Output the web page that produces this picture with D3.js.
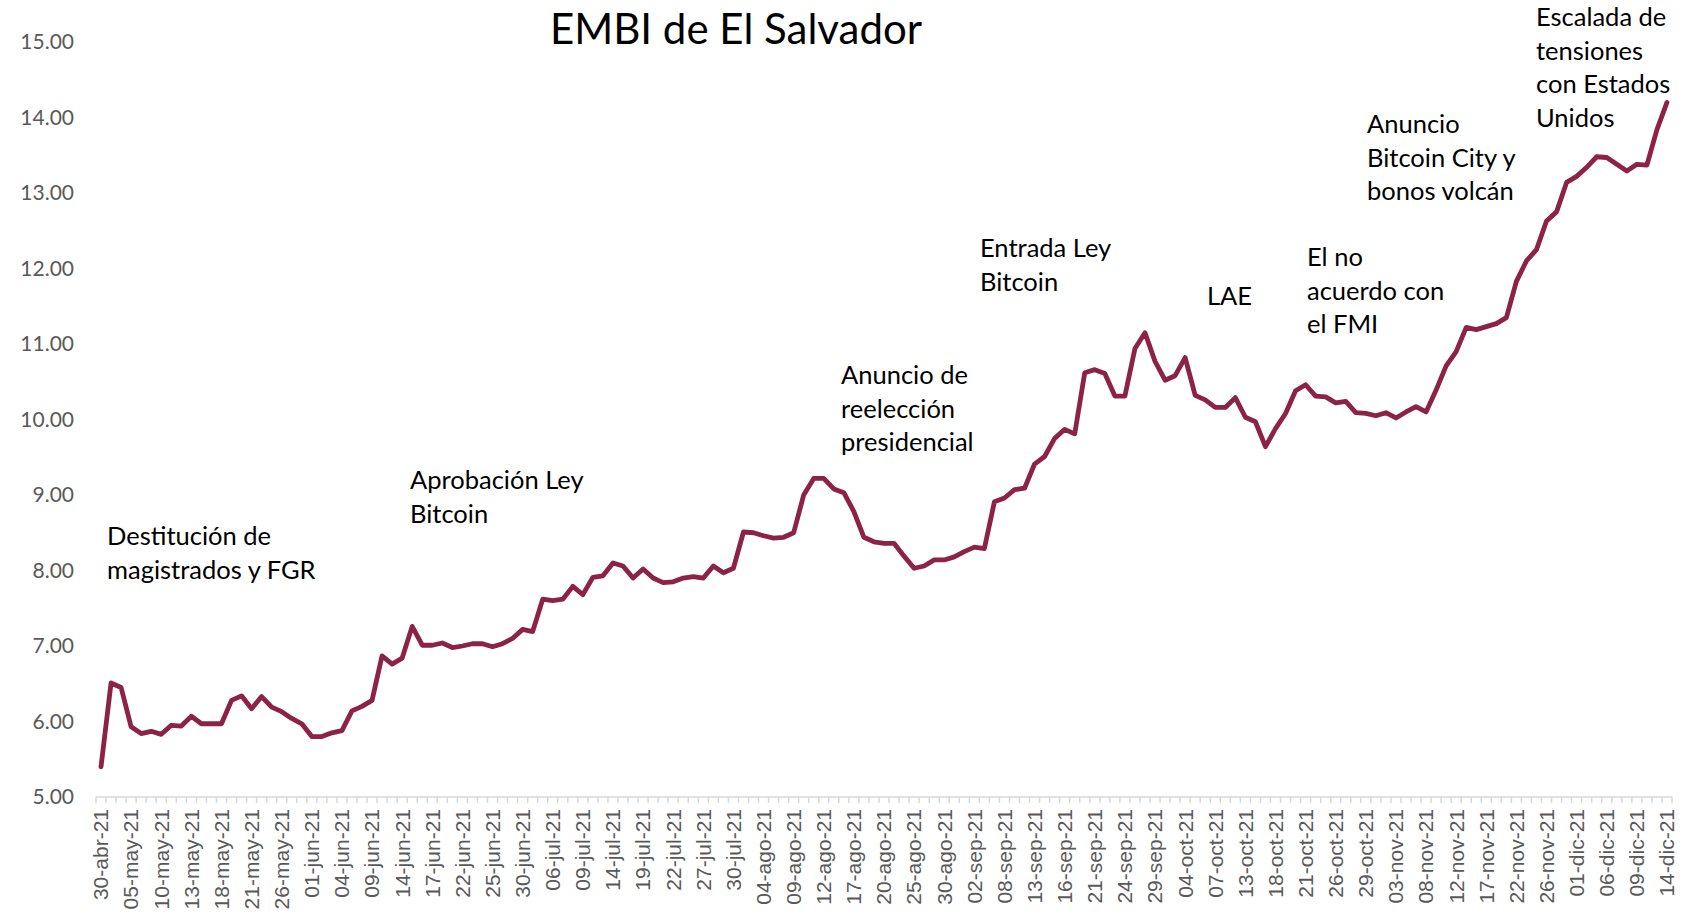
<!DOCTYPE html>
<html>
<head>
<meta charset="utf-8">
<script src="https://cdn.jsdelivr.net/npm/d3@7"></script>
<style>
  body { margin: 0; background: #fff; }
  svg { display: block; }
</style>
</head>
<body>
<svg id="chart"></svg>
<script>
// Chart data
var tickLabels = ["30-abr-21", "05-may-21", "10-may-21", "13-may-21", "18-may-21", "21-may-21", "26-may-21",
    "01-jun-21", "04-jun-21", "09-jun-21", "14-jun-21", "17-jun-21", "22-jun-21", "25-jun-21", "30-jun-21",
    "06-jul-21", "09-jul-21", "14-jul-21", "19-jul-21", "22-jul-21", "27-jul-21", "30-jul-21",
    "04-ago-21", "09-ago-21", "12-ago-21", "17-ago-21", "20-ago-21", "25-ago-21", "30-ago-21",
    "02-sep-21", "08-sep-21", "13-sep-21", "16-sep-21", "21-sep-21", "24-sep-21", "29-sep-21",
    "04-oct-21", "07-oct-21", "13-oct-21", "18-oct-21", "21-oct-21", "26-oct-21", "29-oct-21",
    "03-nov-21", "08-nov-21", "12-nov-21", "17-nov-21", "22-nov-21", "26-nov-21",
    "01-dic-21", "06-dic-21", "09-dic-21", "14-dic-21"];

var embi = [5.40, 6.51, 6.45, 5.93, 5.84, 5.87, 5.83, 5.95, 5.94, 6.07,
    5.97, 5.97, 5.97, 6.28, 6.34, 6.17, 6.33, 6.19, 6.13, 6.04,
    5.97, 5.80, 5.80, 5.85, 5.88, 6.14, 6.20, 6.28, 6.87, 6.76,
    6.84, 7.26, 7.01, 7.01, 7.04, 6.98, 7.00, 7.03, 7.03, 6.99,
    7.03, 7.10, 7.22, 7.19, 7.62, 7.60, 7.62, 7.79, 7.68, 7.91,
    7.93, 8.10, 8.06, 7.90, 8.02, 7.90, 7.84, 7.85, 7.90, 7.92,
    7.90, 8.06, 7.97, 8.03, 8.51, 8.50, 8.46, 8.43, 8.44, 8.50,
    9.00, 9.22, 9.22, 9.08, 9.03, 8.78, 8.44, 8.38, 8.36, 8.36,
    8.19, 8.03, 8.06, 8.14, 8.14, 8.18, 8.25, 8.31, 8.29, 8.91,
    8.96, 9.07, 9.09, 9.41, 9.51, 9.75, 9.87, 9.81, 10.62, 10.66,
    10.61, 10.31, 10.31, 10.94, 11.15, 10.77, 10.52, 10.58, 10.82, 10.32,
    10.26, 10.16, 10.16, 10.29, 10.03, 9.97, 9.64, 9.88, 10.08, 10.38,
    10.46, 10.31, 10.30, 10.22, 10.24, 10.09, 10.08, 10.05, 10.09, 10.02,
    10.10, 10.17, 10.10, 10.39, 10.71, 10.90, 11.22, 11.19, 11.23, 11.27,
    11.35, 11.83, 12.10, 12.25, 12.63, 12.75, 13.14, 13.22, 13.34, 13.48,
    13.47, 13.38, 13.29, 13.38, 13.37, 13.84, 14.20];

var yTicks = [5, 6, 7, 8, 9, 10, 11, 12, 13, 14, 15];

// annotation texts
var notes = [
    { lines: ["Destitución de", "magistrados y FGR"], x: 107, y: 536 },
    { lines: ["Aprobación Ley", "Bitcoin"], x: 410, y: 480 },
    { lines: ["Anuncio de", "reelección", "presidencial"], x: 841, y: 375 },
    { lines: ["Entrada Ley", "Bitcoin"], x: 980, y: 248 },
    { lines: ["LAE"], x: 1207, y: 296 },
    { lines: ["El no", "acuerdo con", "el FMI"], x: 1307, y: 257 },
    { lines: ["Anuncio", "Bitcoin City y", "bonos volcán"], x: 1367, y: 124 },
    { lines: ["Escalada de", "tensiones", "con Estados", "Unidos"], x: 1536, y: 17 }
];

var width = 1701, height = 912;
var svg = d3.select("#chart").attr("width", width).attr("height", height);

var x = d3.scaleBand()
    .domain(d3.range(embi.length))
    .range([96, 1672])
    .padding(0);

var y = d3.scaleLinear()
    .domain([5, 15])
    .range([797, 42]);

// Title
svg.append("text")
    .attr("x", 736)
    .attr("y", 29)
    .attr("dy", "0.35em")
    .attr("text-anchor", "middle")
    .style("font-family", "Lato, 'Open Sans', sans-serif")
    .style("font-size", "42px")
    .style("fill", "#000")
    .text("EMBI de El Salvador");

// Y axis (labels only)
var yAxis = svg.append("g")
    .attr("transform", "translate(74,0)")
    .call(d3.axisLeft(y).tickValues(yTicks).tickFormat(d3.format(".2f")).tickSize(0).tickPadding(0));
yAxis.select(".domain").remove();
yAxis.selectAll("text")
    .style("font-family", "Lato, 'Open Sans', sans-serif")
    .style("font-size", "21px")
    .style("fill", "#595959");

// X axis line and ticks between categories
svg.append("line")
    .attr("x1", x.range()[0]).attr("x2", x.range()[1])
    .attr("y1", y(5)).attr("y2", y(5))
    .attr("stroke", "#d9d9d9").attr("stroke-width", 1.5);

svg.selectAll(".xtick")
    .data(d3.range(embi.length + 1))
    .enter().append("line")
    .attr("class", "xtick")
    .attr("x1", d => x.range()[0] + d * x.step())
    .attr("x2", d => x.range()[0] + d * x.step())
    .attr("y1", y(5)).attr("y2", y(5) + 6)
    .attr("stroke", "#d9d9d9").attr("stroke-width", 1.5);

// X labels every third point
var xAxis = svg.append("g")
    .attr("transform", "translate(0," + (y(5) + 12) + ")")
    .call(d3.axisBottom(x)
        .tickValues(d3.range(0, embi.length, 3))
        .tickFormat(d => tickLabels[d / 3])
        .tickSize(0));
xAxis.select(".domain").remove();
xAxis.selectAll("text")
    .attr("transform", "rotate(-90)")
    .attr("x", 0)
    .attr("y", 0)
    .attr("dy", "0.35em")
    .style("text-anchor", "end")
    .style("font-family", "'Liberation Sans', Arial, sans-serif")
    .style("font-size", "21px")
    .style("fill", "#595959");

// Line
var line = d3.line()
    .x((d, i) => x(i) + x.bandwidth() / 2)
    .y(d => y(d));

svg.append("path")
    .datum(embi)
    .attr("fill", "none")
    .attr("stroke", "#8c2247")
    .attr("stroke-width", 4.8)
    .attr("stroke-linejoin", "round")
    .attr("stroke-linecap", "round")
    .attr("d", line);

// Annotations
notes.forEach(function(n) {
    var t = svg.append("text")
        .style("font-family", "Lato, 'Open Sans', sans-serif")
        .style("font-size", "25.5px")
        .style("fill", "#000");
    n.lines.forEach(function(l, i) {
        t.append("tspan")
            .attr("x", n.x)
            .attr("y", n.y + i * 33.6)
            .attr("dy", "0.35em")
            .text(l);
    });
});
</script>
</body>
</html>
